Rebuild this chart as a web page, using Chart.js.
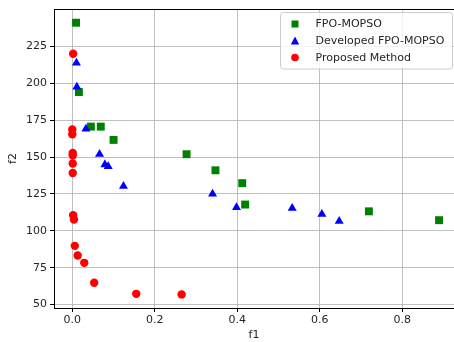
<!DOCTYPE html>
<html><head><meta charset="utf-8">
<script src="https://cdn.jsdelivr.net/npm/chart.js@4/dist/chart.umd.min.js"></script>
<style>
html,body{margin:0;padding:0;background:#fff;overflow:hidden;width:454px;height:342px}
canvas{display:block}
</style></head>
<body>
<canvas id="c" width="454" height="342" style="width:454px;height:342px"></canvas>
<script>
const seriesNames = ['FPO-MOPSO', 'Developed FPO-MOPSO', 'Proposed Method'];
const seriesColors = ['#008000', '#0000ff', '#ff0000'];

const fpoX = [0.009, 0.016, 0.045, 0.069, 0.100, 0.277, 0.347, 0.412, 0.419, 0.719, 0.889];
const fpoY = [241, 194, 170.6, 170.6, 161.6, 151.9, 141, 132.3, 117.8, 113.2, 107.2];

const devX = [0.010, 0.011, 0.033, 0.066, 0.079, 0.087, 0.124, 0.340, 0.398, 0.533, 0.605, 0.647];
const devY = [213.7, 197.5, 169, 151.9, 144.9, 143.6, 130.2, 125, 115.8, 115.3, 111.3, 106.5];

const propX = [0.002, 0.000, 0.000, 0.001, 0.001, 0.001, 0.001, 0.002, 0.004, 0.006, 0.013, 0.029, 0.053, 0.155, 0.265];
const propY = [220, 168.6, 165.4, 152.8, 151.2, 145.6, 139.2, 110.6, 107.7, 89.8, 83.3, 78.3, 64.8, 57.3, 56.9];

const xTicks = [0.0, 0.2, 0.4, 0.6, 0.8];
const yTicks = [50, 75, 100, 125, 150, 175, 200, 225];
const xLabel = 'f1';
const yLabel = 'f2';

function pts(xs, ys) { return xs.map((x, i) => ({x: x, y: ys[i]})); }

const FONT = 'DejaVu Sans';
const TXT = '#262626';

const extras = {
  id: 'extras',
  afterDraw(chart) {
    const ctx = chart.ctx;
    const a = chart.chartArea;
    ctx.save();
    // top spine
    ctx.strokeStyle = '#000';
    ctx.lineWidth = 1;
    ctx.beginPath();
    ctx.moveTo(a.left, a.top + 0.5);
    ctx.lineTo(a.right, a.top + 0.5);
    ctx.stroke();
    // legend box
    const bx = 280.5, by = 12.5, bw = 172, bh = 56.5, r = 3;
    ctx.beginPath();
    ctx.moveTo(bx + r, by);
    ctx.lineTo(bx + bw - r, by);
    ctx.quadraticCurveTo(bx + bw, by, bx + bw, by + r);
    ctx.lineTo(bx + bw, by + bh - r);
    ctx.quadraticCurveTo(bx + bw, by + bh, bx + bw - r, by + bh);
    ctx.lineTo(bx + r, by + bh);
    ctx.quadraticCurveTo(bx, by + bh, bx, by + bh - r);
    ctx.lineTo(bx, by + r);
    ctx.quadraticCurveTo(bx, by, bx + r, by);
    ctx.closePath();
    ctx.fillStyle = 'rgba(255,255,255,0.8)';
    ctx.fill();
    ctx.strokeStyle = '#cccccc';
    ctx.lineWidth = 1;
    ctx.stroke();
    const rows = [24, 41, 57.5];
    const mx = 295;
    ctx.font = '11px "' + FONT + '"';
    ctx.textBaseline = 'middle';
    ctx.textAlign = 'left';
    rows.forEach((ry, i) => {
      ctx.fillStyle = seriesColors[i];
      if (i === 0) {
        ctx.fillRect(mx - 3.5, ry - 3.5, 7, 7);
      } else if (i === 1) {
        ctx.beginPath();
        ctx.moveTo(mx, ry - 4.5);
        ctx.lineTo(mx - 4.2, ry + 3.5);
        ctx.lineTo(mx + 4.2, ry + 3.5);
        ctx.closePath();
        ctx.fill();
      } else {
        ctx.beginPath();
        ctx.arc(mx, ry, 3.8, 0, Math.PI * 2);
        ctx.fill();
      }
      ctx.fillStyle = TXT;
      ctx.fillText(seriesNames[i], 315.5, ry + 0.5);
    });
    ctx.restore();
  }
};

new Chart(document.getElementById('c'), {
  type: 'scatter',
  data: {
    datasets: [
      {label: seriesNames[0], data: pts(fpoX, fpoY), pointStyle: 'rect', pointRadius: 5.6,
       backgroundColor: seriesColors[0], borderColor: seriesColors[0], borderWidth: 0, order: 3},
      {label: seriesNames[1], data: pts(devX, devY), pointStyle: 'triangle', pointRadius: 5.2,
       backgroundColor: seriesColors[1], borderColor: seriesColors[1], borderWidth: 0, order: 2},
      {label: seriesNames[2], data: pts(propX, propY), pointStyle: 'circle', pointRadius: 4.2,
       backgroundColor: seriesColors[2], borderColor: seriesColors[2], borderWidth: 0, order: 1}
    ]
  },
  options: {
    responsive: false,
    devicePixelRatio: 1,
    animation: false,
    layout: {autoPadding: false, padding: {top: 9, left: 0, right: 0, bottom: 0}},
    plugins: {legend: {display: false}, tooltip: {enabled: false}},
    scales: {
      x: {
        type: 'linear', min: -0.0444, max: 0.9253,
        afterBuildTicks: ax => { ax.ticks = xTicks.map(v => ({value: v})); },
        afterFit: ax => { ax.height = 34; ax.paddingLeft = 0; ax.paddingRight = 0; },
        grid: {color: '#b0b0b0', lineWidth: 0.8, tickLength: 4, tickColor: '#000', tickWidth: 1},
        border: {color: '#000', width: 1},
        ticks: {padding: 2, color: TXT, font: {family: FONT, size: 11}, maxRotation: 0,
                callback: v => Number(v).toFixed(1)},
        title: {display: true, text: xLabel, color: TXT, font: {family: FONT, size: 11}, padding: {top: 0, bottom: 0}}
      },
      y: {
        type: 'linear', min: 47.7, max: 250.3,
        afterBuildTicks: ax => { ax.ticks = yTicks.map(v => ({value: v})); },
        afterFit: ax => { ax.width = 54; ax.paddingTop = 0; ax.paddingBottom = 0; },
        grid: {color: '#b0b0b0', lineWidth: 0.8, tickLength: 4, tickColor: '#000', tickWidth: 1},
        border: {color: '#000', width: 1},
        ticks: {padding: 3, color: TXT, font: {family: FONT, size: 11},
                callback: v => String(v)},
        title: {display: true, text: yLabel, color: TXT, font: {family: FONT, size: 11}, padding: {top: 7, bottom: 0}}
      }
    }
  },
  plugins: [extras]
});
</script>
</body></html>
